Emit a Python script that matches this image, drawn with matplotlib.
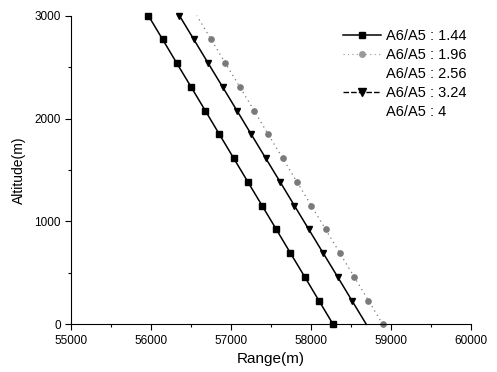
import matplotlib.pyplot as plt
from matplotlib.lines import Line2D
from matplotlib.ticker import MultipleLocator

plt.rcParams['font.family'] = ['Liberation Sans', 'DejaVu Sans']

# altitude grid (m) shared by every ratio
altitude = [0, 231, 462, 692, 923, 1154, 1385, 1615, 1846, 2077, 2308, 2538, 2769, 3000]

# range (m) for each A6/A5 ratio
range_144 = [58275, 58097, 57920, 57742, 57565, 57387, 57209,
             57032, 56854, 56677, 56499, 56321, 56144, 55966]
range_196 = [58896, 58717, 58538, 58360, 58181, 58002, 57823,
             57644, 57465, 57287, 57108, 56929, 56750, 56571]
range_324 = [58690, 58510, 58331, 58151, 57971, 57791, 57612,
             57432, 57252, 57073, 56893, 56713, 56534, 56354]

labels = ['A6/A5 : 1.44', 'A6/A5 : 1.96', 'A6/A5 : 2.56', 'A6/A5 : 3.24', 'A6/A5 : 4']

fig = plt.figure(figsize=(4.97, 3.72), dpi=100)
ax = fig.add_axes([0.143, 0.128, 0.805, 0.83])

l1, = ax.plot(range_144, altitude, color='black', lw=1.1, marker='s', ms=4.5, clip_on=False)
l2, = ax.plot(range_196, altitude, color='#7a7a7a', lw=0.9, ls=(0, (1, 3)), marker='o', ms=3.8,
              markevery=list(range(13)), clip_on=False)
l4, = ax.plot(range_324, altitude, color='black', lw=1.1, marker='v', ms=5,
              markevery=list(range(1, 14)), clip_on=False)

# ratios 2.56 and 4 carry no visible trace
empty = Line2D([], [], ls='none', marker='none')
leg_144 = Line2D([], [], color='black', lw=1.1, marker='s', ms=5)
leg_196 = Line2D([], [], color='#9a9a9a', lw=0.8, ls=(0, (1, 3)), marker='o', ms=4)
leg_324 = Line2D([], [], color='black', lw=1.0, ls=(0, (4, 1.5)), marker='v', ms=6)
ax.legend([leg_144, leg_196, empty, leg_324, empty], labels, loc='upper right',
          bbox_to_anchor=(1.02, 1.0), frameon=False, fontsize=10.5, handlelength=2.6,
          handletextpad=0.3, labelspacing=0.35)

ax.set_xlim(55000, 60000)
ax.set_ylim(0, 3000)
ax.xaxis.set_major_locator(MultipleLocator(1000))
ax.xaxis.set_minor_locator(MultipleLocator(500))
ax.yaxis.set_major_locator(MultipleLocator(1000))
ax.yaxis.set_minor_locator(MultipleLocator(500))
ax.tick_params(which='major', direction='out', length=4, width=0.8, labelsize=8.5)
ax.tick_params(which='minor', direction='out', length=2.5, width=0.8)
ax.spines['top'].set_visible(False)
ax.spines['right'].set_visible(False)
ax.set_xlabel('Range(m)', fontsize=11, labelpad=4)
ax.set_ylabel('Altitude(m)', fontsize=10, labelpad=6)

fig.savefig('out.png', dpi=100)
